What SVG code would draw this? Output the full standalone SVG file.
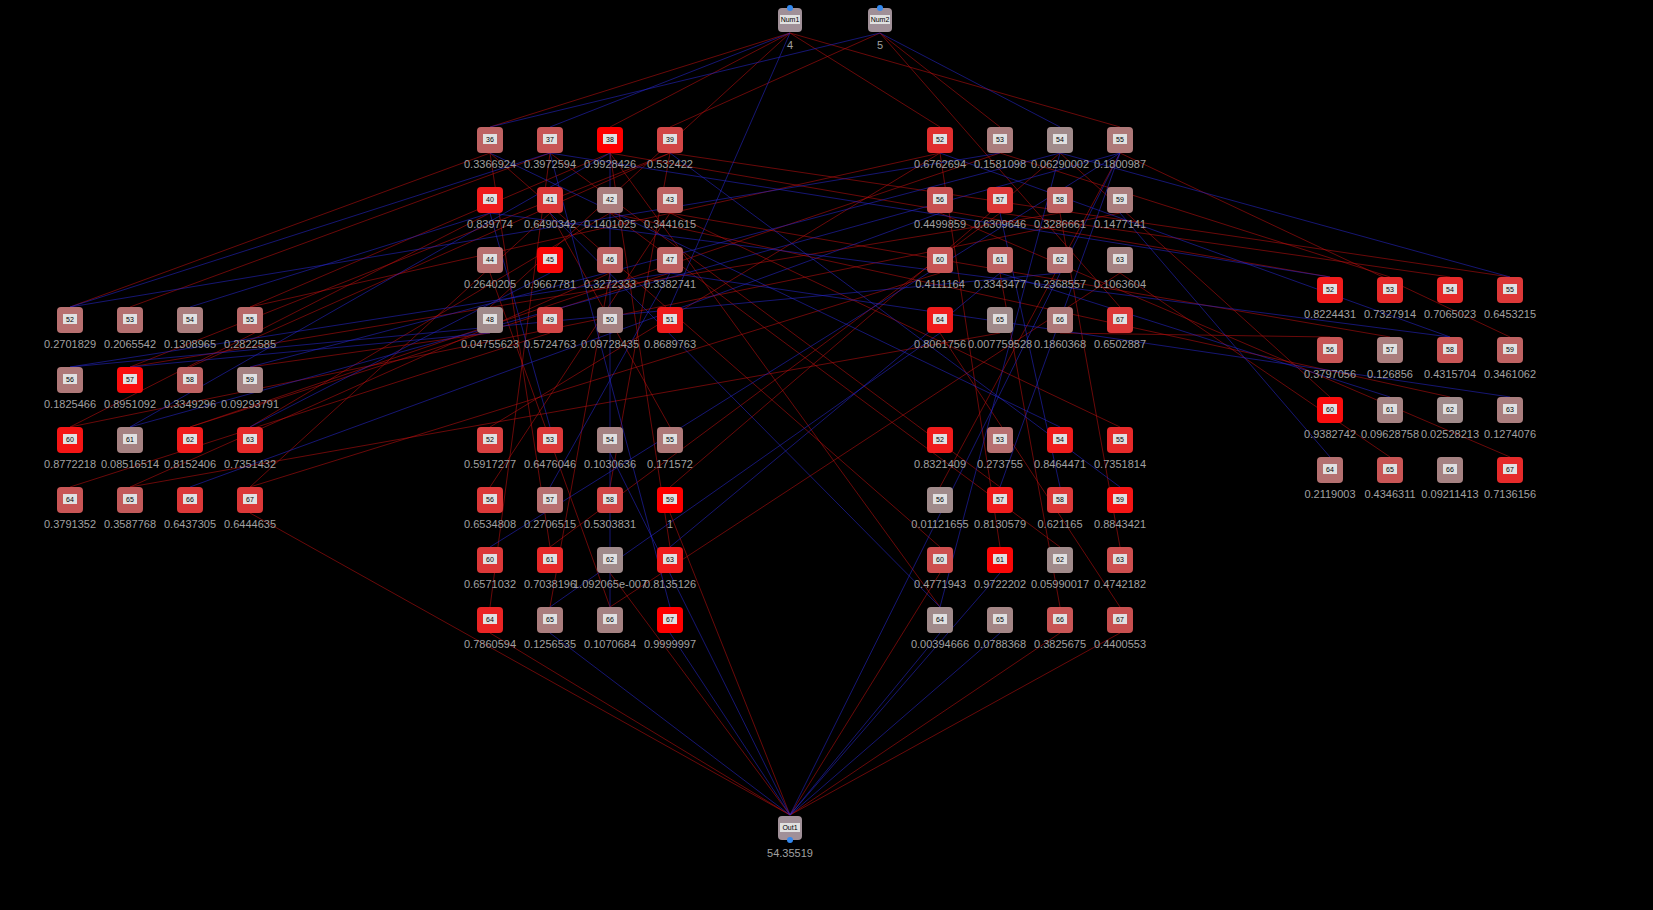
<svg xmlns="http://www.w3.org/2000/svg" width="1653" height="910" viewBox="0 0 1653 910">
<style>
.n{stroke:none;rx:4}
.t{fill:#e0e0e0}
.id{font:7px "Liberation Sans",sans-serif;fill:#000;text-anchor:middle}
.v{font:11px "Liberation Sans",sans-serif;fill:#a0a0a0;text-anchor:middle}
.r{stroke:#c01010;stroke-width:1;fill:none;opacity:.55}
.b{stroke:#2828d0;stroke-width:1;fill:none;opacity:.55}
.p{fill:#3388ee}
</style>
<rect width="1653" height="910" fill="#000"/>
<g id="connectors">
<path class="r" d="M790 33L490 127M790 33L610 127M790 33L940 127M790 33L1120 127M880 33L670 127M880 33L1000 127M880 33L1120 307M790 33L490 307M490 153L70 307M550 153L130 307M610 153L250 307M670 153L190 367M490 213L70 427M550 213L250 487M610 273L130 487M670 273L190 427M490 333L250 367M550 333L70 487M610 213L250 427M670 153L130 367M490 153L550 547M550 153L490 607M610 153L670 547M670 213L490 487M610 273L550 607M490 273L610 607M550 213L670 427M670 153L610 487M610 153L940 607M550 153L1000 487M670 213L1120 427M610 213L1060 547M490 153L940 547M610 153L1330 277M670 153L1510 277M670 213L1390 337M610 213L1450 397M940 153L250 307M1000 153L190 427M1060 213L130 367M1120 213L70 427M940 273L250 487M1000 333L130 487M940 153L490 427M1000 213L550 547M1060 153L670 487M1120 273L610 607M940 153L1000 547M1120 153L940 487M1060 213L1120 547M1000 273L1060 607M940 333L1120 607M1120 153L1510 337M1060 153L1330 397M1000 213L1450 277M940 213L1510 457M1120 273L1390 457M1060 333L1330 337M1000 153L1390 277M490 633L790 815M670 513L790 815M1120 633L790 815M940 573L790 815M1060 633L790 815M610 573L790 815M250 513L790 815"/>
<path class="b" d="M880 33L1060 127M790 33L550 127M880 33L490 127M790 33L670 307M550 153L70 307M490 213L190 307M610 153L130 427M670 273L70 367M550 273L250 427M490 333L130 367M490 213L550 427M610 153L610 607M670 273L550 487M550 153L670 607M670 153L1120 487M490 153L1060 427M550 213L940 607M550 153L1330 277M490 213L1450 337M670 273L1510 397M1000 153L70 307M1060 153L250 367M940 213L190 487M1120 153L130 427M1060 273L70 367M1120 153L490 547M1000 273L670 547M940 333L550 607M1120 153L1000 487M1060 153L940 607M1000 213L1060 487M1060 153L1510 277M1120 213L1330 457M940 153L1450 337M1000 273L1390 397M550 633L790 815M1000 573L790 815M940 633L790 815M610 453L790 815M1120 153L790 815M670 633L790 815M1000 633L790 815"/>
</g>
<defs>
<g id="box"><rect class="t" x="-7" y="-6" width="14" height="10"/></g>
</defs>
<g id="Num1" transform="translate(790,20)"><rect class="n" x="-12" y="-12" width="24" height="24" fill="#a09098"/><circle class="p" cx="0" cy="-12" r="3"/><rect class="t" x="-10" y="-5" width="20" height="9"/><text class="id" y="2">Num1</text><text class="v" y="29">4</text></g>
<g id="Num2" transform="translate(880,20)"><rect class="n" x="-12" y="-12" width="24" height="24" fill="#a09098"/><circle class="p" cx="0" cy="-12" r="3"/><rect class="t" x="-10" y="-5" width="20" height="9"/><text class="id" y="2">Num2</text><text class="v" y="29">5</text></g>
<g id="Out1" transform="translate(790,828)"><rect class="n" x="-12" y="-12" width="24" height="24" fill="#a09098"/><circle class="p" cx="0" cy="12" r="3"/><rect class="t" x="-10" y="-5" width="20" height="9"/><text class="id" y="2">Out1</text><text class="v" y="29">54.35519</text></g>

<g id="A36" transform="translate(490,140)"><rect class="n" x="-13" y="-13" width="26" height="26" fill="#be6262"/><use href="#box"/><text class="id" y="2">36</text><text class="v" y="28">0.3366924</text></g>
<g id="A37" transform="translate(550,140)"><rect class="n" x="-13" y="-13" width="26" height="26" fill="#c85555"/><use href="#box"/><text class="id" y="2">37</text><text class="v" y="28">0.3972594</text></g>
<g id="A38" transform="translate(610,140)"><rect class="n" x="-13" y="-13" width="26" height="26" fill="#ff0000"/><use href="#box"/><text class="id" y="2">38</text><text class="v" y="28">0.9928426</text></g>
<g id="A39" transform="translate(670,140)"><rect class="n" x="-13" y="-13" width="26" height="26" fill="#d24646"/><use href="#box"/><text class="id" y="2">39</text><text class="v" y="28">0.532422</text></g>
<g id="A40" transform="translate(490,200)"><rect class="n" x="-13" y="-13" width="26" height="26" fill="#f01c1c"/><use href="#box"/><text class="id" y="2">40</text><text class="v" y="28">0.839774</text></g>
<g id="A41" transform="translate(550,200)"><rect class="n" x="-13" y="-13" width="26" height="26" fill="#dc3838"/><use href="#box"/><text class="id" y="2">41</text><text class="v" y="28">0.6490342</text></g>
<g id="A42" transform="translate(610,200)"><rect class="n" x="-13" y="-13" width="26" height="26" fill="#aa7d7d"/><use href="#box"/><text class="id" y="2">42</text><text class="v" y="28">0.1401025</text></g>
<g id="A43" transform="translate(670,200)"><rect class="n" x="-13" y="-13" width="26" height="26" fill="#be6262"/><use href="#box"/><text class="id" y="2">43</text><text class="v" y="28">0.3441615</text></g>
<g id="A44" transform="translate(490,260)"><rect class="n" x="-13" y="-13" width="26" height="26" fill="#b87070"/><use href="#box"/><text class="id" y="2">44</text><text class="v" y="28">0.2640205</text></g>
<g id="A45" transform="translate(550,260)"><rect class="n" x="-13" y="-13" width="26" height="26" fill="#fa0808"/><use href="#box"/><text class="id" y="2">45</text><text class="v" y="28">0.9667781</text></g>
<g id="A46" transform="translate(610,260)"><rect class="n" x="-13" y="-13" width="26" height="26" fill="#be6262"/><use href="#box"/><text class="id" y="2">46</text><text class="v" y="28">0.3272333</text></g>
<g id="A47" transform="translate(670,260)"><rect class="n" x="-13" y="-13" width="26" height="26" fill="#be6262"/><use href="#box"/><text class="id" y="2">47</text><text class="v" y="28">0.3382741</text></g>
<g id="A48" transform="translate(490,320)"><rect class="n" x="-13" y="-13" width="26" height="26" fill="#a08a8a"/><use href="#box"/><text class="id" y="2">48</text><text class="v" y="28">0.04755623</text></g>
<g id="A49" transform="translate(550,320)"><rect class="n" x="-13" y="-13" width="26" height="26" fill="#d24646"/><use href="#box"/><text class="id" y="2">49</text><text class="v" y="28">0.5724763</text></g>
<g id="A50" transform="translate(610,320)"><rect class="n" x="-13" y="-13" width="26" height="26" fill="#a58282"/><use href="#box"/><text class="id" y="2">50</text><text class="v" y="28">0.09728435</text></g>
<g id="A51" transform="translate(670,320)"><rect class="n" x="-13" y="-13" width="26" height="26" fill="#f01c1c"/><use href="#box"/><text class="id" y="2">51</text><text class="v" y="28">0.8689763</text></g>

<g id="B52" transform="translate(940,140)"><rect class="n" x="-13" y="-13" width="26" height="26" fill="#e02e2e"/><use href="#box"/><text class="id" y="2">52</text><text class="v" y="28">0.6762694</text></g>
<g id="B53" transform="translate(1000,140)"><rect class="n" x="-13" y="-13" width="26" height="26" fill="#aa7d7d"/><use href="#box"/><text class="id" y="2">53</text><text class="v" y="28">0.1581098</text></g>
<g id="B54" transform="translate(1060,140)"><rect class="n" x="-13" y="-13" width="26" height="26" fill="#a08a8a"/><use href="#box"/><text class="id" y="2">54</text><text class="v" y="28">0.06290002</text></g>
<g id="B55" transform="translate(1120,140)"><rect class="n" x="-13" y="-13" width="26" height="26" fill="#ae7878"/><use href="#box"/><text class="id" y="2">55</text><text class="v" y="28">0.1800987</text></g>
<g id="B56" transform="translate(940,200)"><rect class="n" x="-13" y="-13" width="26" height="26" fill="#c85050"/><use href="#box"/><text class="id" y="2">56</text><text class="v" y="28">0.4499859</text></g>
<g id="B57" transform="translate(1000,200)"><rect class="n" x="-13" y="-13" width="26" height="26" fill="#dc3838"/><use href="#box"/><text class="id" y="2">57</text><text class="v" y="28">0.6309646</text></g>
<g id="B58" transform="translate(1060,200)"><rect class="n" x="-13" y="-13" width="26" height="26" fill="#be6262"/><use href="#box"/><text class="id" y="2">58</text><text class="v" y="28">0.3286661</text></g>
<g id="B59" transform="translate(1120,200)"><rect class="n" x="-13" y="-13" width="26" height="26" fill="#aa7d7d"/><use href="#box"/><text class="id" y="2">59</text><text class="v" y="28">0.1477141</text></g>
<g id="B60" transform="translate(940,260)"><rect class="n" x="-13" y="-13" width="26" height="26" fill="#c85555"/><use href="#box"/><text class="id" y="2">60</text><text class="v" y="28">0.4111164</text></g>
<g id="B61" transform="translate(1000,260)"><rect class="n" x="-13" y="-13" width="26" height="26" fill="#be6262"/><use href="#box"/><text class="id" y="2">61</text><text class="v" y="28">0.3343477</text></g>
<g id="B62" transform="translate(1060,260)"><rect class="n" x="-13" y="-13" width="26" height="26" fill="#b47070"/><use href="#box"/><text class="id" y="2">62</text><text class="v" y="28">0.2368557</text></g>
<g id="B63" transform="translate(1120,260)"><rect class="n" x="-13" y="-13" width="26" height="26" fill="#a58282"/><use href="#box"/><text class="id" y="2">63</text><text class="v" y="28">0.1063604</text></g>
<g id="B64" transform="translate(940,320)"><rect class="n" x="-13" y="-13" width="26" height="26" fill="#f01c1c"/><use href="#box"/><text class="id" y="2">64</text><text class="v" y="28">0.8061756</text></g>
<g id="B65" transform="translate(1000,320)"><rect class="n" x="-13" y="-13" width="26" height="26" fill="#a08a8a"/><use href="#box"/><text class="id" y="2">65</text><text class="v" y="28">0.007759528</text></g>
<g id="B66" transform="translate(1060,320)"><rect class="n" x="-13" y="-13" width="26" height="26" fill="#ae7878"/><use href="#box"/><text class="id" y="2">66</text><text class="v" y="28">0.1860368</text></g>
<g id="B67" transform="translate(1120,320)"><rect class="n" x="-13" y="-13" width="26" height="26" fill="#dc3838"/><use href="#box"/><text class="id" y="2">67</text><text class="v" y="28">0.6502887</text></g>

<g id="C52" transform="translate(70,320)"><rect class="n" x="-13" y="-13" width="26" height="26" fill="#b87070"/><use href="#box"/><text class="id" y="2">52</text><text class="v" y="28">0.2701829</text></g>
<g id="C53" transform="translate(130,320)"><rect class="n" x="-13" y="-13" width="26" height="26" fill="#b47070"/><use href="#box"/><text class="id" y="2">53</text><text class="v" y="28">0.2065542</text></g>
<g id="C54" transform="translate(190,320)"><rect class="n" x="-13" y="-13" width="26" height="26" fill="#aa7d7d"/><use href="#box"/><text class="id" y="2">54</text><text class="v" y="28">0.1308965</text></g>
<g id="C55" transform="translate(250,320)"><rect class="n" x="-13" y="-13" width="26" height="26" fill="#b86868"/><use href="#box"/><text class="id" y="2">55</text><text class="v" y="28">0.2822585</text></g>
<g id="C56" transform="translate(70,380)"><rect class="n" x="-13" y="-13" width="26" height="26" fill="#ae7878"/><use href="#box"/><text class="id" y="2">56</text><text class="v" y="28">0.1825466</text></g>
<g id="C57" transform="translate(130,380)"><rect class="n" x="-13" y="-13" width="26" height="26" fill="#fa0e0e"/><use href="#box"/><text class="id" y="2">57</text><text class="v" y="28">0.8951092</text></g>
<g id="C58" transform="translate(190,380)"><rect class="n" x="-13" y="-13" width="26" height="26" fill="#be6262"/><use href="#box"/><text class="id" y="2">58</text><text class="v" y="28">0.3349296</text></g>
<g id="C59" transform="translate(250,380)"><rect class="n" x="-13" y="-13" width="26" height="26" fill="#a58282"/><use href="#box"/><text class="id" y="2">59</text><text class="v" y="28">0.09293791</text></g>
<g id="C60" transform="translate(70,440)"><rect class="n" x="-13" y="-13" width="26" height="26" fill="#f51515"/><use href="#box"/><text class="id" y="2">60</text><text class="v" y="28">0.8772218</text></g>
<g id="C61" transform="translate(130,440)"><rect class="n" x="-13" y="-13" width="26" height="26" fill="#a58282"/><use href="#box"/><text class="id" y="2">61</text><text class="v" y="28">0.08516514</text></g>
<g id="C62" transform="translate(190,440)"><rect class="n" x="-13" y="-13" width="26" height="26" fill="#f01c1c"/><use href="#box"/><text class="id" y="2">62</text><text class="v" y="28">0.8152406</text></g>
<g id="C63" transform="translate(250,440)"><rect class="n" x="-13" y="-13" width="26" height="26" fill="#e62a2a"/><use href="#box"/><text class="id" y="2">63</text><text class="v" y="28">0.7351432</text></g>
<g id="C64" transform="translate(70,500)"><rect class="n" x="-13" y="-13" width="26" height="26" fill="#c85555"/><use href="#box"/><text class="id" y="2">64</text><text class="v" y="28">0.3791352</text></g>
<g id="C65" transform="translate(130,500)"><rect class="n" x="-13" y="-13" width="26" height="26" fill="#c25a5a"/><use href="#box"/><text class="id" y="2">65</text><text class="v" y="28">0.3587768</text></g>
<g id="C66" transform="translate(190,500)"><rect class="n" x="-13" y="-13" width="26" height="26" fill="#dc3838"/><use href="#box"/><text class="id" y="2">66</text><text class="v" y="28">0.6437305</text></g>
<g id="C67" transform="translate(250,500)"><rect class="n" x="-13" y="-13" width="26" height="26" fill="#dc3838"/><use href="#box"/><text class="id" y="2">67</text><text class="v" y="28">0.6444635</text></g>

<g id="D52" transform="translate(490,440)"><rect class="n" x="-13" y="-13" width="26" height="26" fill="#d84040"/><use href="#box"/><text class="id" y="2">52</text><text class="v" y="28">0.5917277</text></g>
<g id="D53" transform="translate(550,440)"><rect class="n" x="-13" y="-13" width="26" height="26" fill="#dc3838"/><use href="#box"/><text class="id" y="2">53</text><text class="v" y="28">0.6476046</text></g>
<g id="D54" transform="translate(610,440)"><rect class="n" x="-13" y="-13" width="26" height="26" fill="#a58282"/><use href="#box"/><text class="id" y="2">54</text><text class="v" y="28">0.1030636</text></g>
<g id="D55" transform="translate(670,440)"><rect class="n" x="-13" y="-13" width="26" height="26" fill="#ae7878"/><use href="#box"/><text class="id" y="2">55</text><text class="v" y="28">0.171572</text></g>
<g id="D56" transform="translate(490,500)"><rect class="n" x="-13" y="-13" width="26" height="26" fill="#dc3838"/><use href="#box"/><text class="id" y="2">56</text><text class="v" y="28">0.6534808</text></g>
<g id="D57" transform="translate(550,500)"><rect class="n" x="-13" y="-13" width="26" height="26" fill="#b87070"/><use href="#box"/><text class="id" y="2">57</text><text class="v" y="28">0.2706515</text></g>
<g id="D58" transform="translate(610,500)"><rect class="n" x="-13" y="-13" width="26" height="26" fill="#d24646"/><use href="#box"/><text class="id" y="2">58</text><text class="v" y="28">0.5303831</text></g>
<g id="D59" transform="translate(670,500)"><rect class="n" x="-13" y="-13" width="26" height="26" fill="#ff0000"/><use href="#box"/><text class="id" y="2">59</text><text class="v" y="28">1</text></g>
<g id="D60" transform="translate(490,560)"><rect class="n" x="-13" y="-13" width="26" height="26" fill="#dc3838"/><use href="#box"/><text class="id" y="2">60</text><text class="v" y="28">0.6571032</text></g>
<g id="D61" transform="translate(550,560)"><rect class="n" x="-13" y="-13" width="26" height="26" fill="#e62a2a"/><use href="#box"/><text class="id" y="2">61</text><text class="v" y="28">0.7038196</text></g>
<g id="D62" transform="translate(610,560)"><rect class="n" x="-13" y="-13" width="26" height="26" fill="#a08a8a"/><use href="#box"/><text class="id" y="2">62</text><text class="v" y="28">1.092065e-007</text></g>
<g id="D63" transform="translate(670,560)"><rect class="n" x="-13" y="-13" width="26" height="26" fill="#f01c1c"/><use href="#box"/><text class="id" y="2">63</text><text class="v" y="28">0.8135126</text></g>
<g id="D64" transform="translate(490,620)"><rect class="n" x="-13" y="-13" width="26" height="26" fill="#eb2424"/><use href="#box"/><text class="id" y="2">64</text><text class="v" y="28">0.7860594</text></g>
<g id="D65" transform="translate(550,620)"><rect class="n" x="-13" y="-13" width="26" height="26" fill="#aa7d7d"/><use href="#box"/><text class="id" y="2">65</text><text class="v" y="28">0.1256535</text></g>
<g id="D66" transform="translate(610,620)"><rect class="n" x="-13" y="-13" width="26" height="26" fill="#a58282"/><use href="#box"/><text class="id" y="2">66</text><text class="v" y="28">0.1070684</text></g>
<g id="D67" transform="translate(670,620)"><rect class="n" x="-13" y="-13" width="26" height="26" fill="#ff0000"/><use href="#box"/><text class="id" y="2">67</text><text class="v" y="28">0.9999997</text></g>

<g id="E52" transform="translate(940,440)"><rect class="n" x="-13" y="-13" width="26" height="26" fill="#f01c1c"/><use href="#box"/><text class="id" y="2">52</text><text class="v" y="28">0.8321409</text></g>
<g id="E53" transform="translate(1000,440)"><rect class="n" x="-13" y="-13" width="26" height="26" fill="#b87070"/><use href="#box"/><text class="id" y="2">53</text><text class="v" y="28">0.273755</text></g>
<g id="E54" transform="translate(1060,440)"><rect class="n" x="-13" y="-13" width="26" height="26" fill="#f01c1c"/><use href="#box"/><text class="id" y="2">54</text><text class="v" y="28">0.8464471</text></g>
<g id="E55" transform="translate(1120,440)"><rect class="n" x="-13" y="-13" width="26" height="26" fill="#e62a2a"/><use href="#box"/><text class="id" y="2">55</text><text class="v" y="28">0.7351814</text></g>
<g id="E56" transform="translate(940,500)"><rect class="n" x="-13" y="-13" width="26" height="26" fill="#a08a8a"/><use href="#box"/><text class="id" y="2">56</text><text class="v" y="28">0.01121655</text></g>
<g id="E57" transform="translate(1000,500)"><rect class="n" x="-13" y="-13" width="26" height="26" fill="#f01c1c"/><use href="#box"/><text class="id" y="2">57</text><text class="v" y="28">0.8130579</text></g>
<g id="E58" transform="translate(1060,500)"><rect class="n" x="-13" y="-13" width="26" height="26" fill="#dc3838"/><use href="#box"/><text class="id" y="2">58</text><text class="v" y="28">0.621165</text></g>
<g id="E59" transform="translate(1120,500)"><rect class="n" x="-13" y="-13" width="26" height="26" fill="#f51515"/><use href="#box"/><text class="id" y="2">59</text><text class="v" y="28">0.8843421</text></g>
<g id="E60" transform="translate(940,560)"><rect class="n" x="-13" y="-13" width="26" height="26" fill="#cd4f4f"/><use href="#box"/><text class="id" y="2">60</text><text class="v" y="28">0.4771943</text></g>
<g id="E61" transform="translate(1000,560)"><rect class="n" x="-13" y="-13" width="26" height="26" fill="#fa0808"/><use href="#box"/><text class="id" y="2">61</text><text class="v" y="28">0.9722202</text></g>
<g id="E62" transform="translate(1060,560)"><rect class="n" x="-13" y="-13" width="26" height="26" fill="#a08a8a"/><use href="#box"/><text class="id" y="2">62</text><text class="v" y="28">0.05990017</text></g>
<g id="E63" transform="translate(1120,560)"><rect class="n" x="-13" y="-13" width="26" height="26" fill="#cd4f4f"/><use href="#box"/><text class="id" y="2">63</text><text class="v" y="28">0.4742182</text></g>
<g id="E64" transform="translate(940,620)"><rect class="n" x="-13" y="-13" width="26" height="26" fill="#a08a8a"/><use href="#box"/><text class="id" y="2">64</text><text class="v" y="28">0.00394666</text></g>
<g id="E65" transform="translate(1000,620)"><rect class="n" x="-13" y="-13" width="26" height="26" fill="#a38585"/><use href="#box"/><text class="id" y="2">65</text><text class="v" y="28">0.0788368</text></g>
<g id="E66" transform="translate(1060,620)"><rect class="n" x="-13" y="-13" width="26" height="26" fill="#c85555"/><use href="#box"/><text class="id" y="2">66</text><text class="v" y="28">0.3825675</text></g>
<g id="E67" transform="translate(1120,620)"><rect class="n" x="-13" y="-13" width="26" height="26" fill="#c85050"/><use href="#box"/><text class="id" y="2">67</text><text class="v" y="28">0.4400553</text></g>

<g id="F52" transform="translate(1330,290)"><rect class="n" x="-13" y="-13" width="26" height="26" fill="#f01c1c"/><use href="#box"/><text class="id" y="2">52</text><text class="v" y="28">0.8224431</text></g>
<g id="F53" transform="translate(1390,290)"><rect class="n" x="-13" y="-13" width="26" height="26" fill="#e62a2a"/><use href="#box"/><text class="id" y="2">53</text><text class="v" y="28">0.7327914</text></g>
<g id="F54" transform="translate(1450,290)"><rect class="n" x="-13" y="-13" width="26" height="26" fill="#e62a2a"/><use href="#box"/><text class="id" y="2">54</text><text class="v" y="28">0.7065023</text></g>
<g id="F55" transform="translate(1510,290)"><rect class="n" x="-13" y="-13" width="26" height="26" fill="#dc3838"/><use href="#box"/><text class="id" y="2">55</text><text class="v" y="28">0.6453215</text></g>
<g id="F56" transform="translate(1330,350)"><rect class="n" x="-13" y="-13" width="26" height="26" fill="#c85555"/><use href="#box"/><text class="id" y="2">56</text><text class="v" y="28">0.3797056</text></g>
<g id="F57" transform="translate(1390,350)"><rect class="n" x="-13" y="-13" width="26" height="26" fill="#aa7d7d"/><use href="#box"/><text class="id" y="2">57</text><text class="v" y="28">0.126856</text></g>
<g id="F58" transform="translate(1450,350)"><rect class="n" x="-13" y="-13" width="26" height="26" fill="#c85555"/><use href="#box"/><text class="id" y="2">58</text><text class="v" y="28">0.4315704</text></g>
<g id="F59" transform="translate(1510,350)"><rect class="n" x="-13" y="-13" width="26" height="26" fill="#be6262"/><use href="#box"/><text class="id" y="2">59</text><text class="v" y="28">0.3461062</text></g>
<g id="F60" transform="translate(1330,410)"><rect class="n" x="-13" y="-13" width="26" height="26" fill="#fa0e0e"/><use href="#box"/><text class="id" y="2">60</text><text class="v" y="28">0.9382742</text></g>
<g id="F61" transform="translate(1390,410)"><rect class="n" x="-13" y="-13" width="26" height="26" fill="#a58282"/><use href="#box"/><text class="id" y="2">61</text><text class="v" y="28">0.09628758</text></g>
<g id="F62" transform="translate(1450,410)"><rect class="n" x="-13" y="-13" width="26" height="26" fill="#a08a8a"/><use href="#box"/><text class="id" y="2">62</text><text class="v" y="28">0.02528213</text></g>
<g id="F63" transform="translate(1510,410)"><rect class="n" x="-13" y="-13" width="26" height="26" fill="#aa7d7d"/><use href="#box"/><text class="id" y="2">63</text><text class="v" y="28">0.1274076</text></g>
<g id="F64" transform="translate(1330,470)"><rect class="n" x="-13" y="-13" width="26" height="26" fill="#b47070"/><use href="#box"/><text class="id" y="2">64</text><text class="v" y="28">0.2119003</text></g>
<g id="F65" transform="translate(1390,470)"><rect class="n" x="-13" y="-13" width="26" height="26" fill="#c85555"/><use href="#box"/><text class="id" y="2">65</text><text class="v" y="28">0.4346311</text></g>
<g id="F66" transform="translate(1450,470)"><rect class="n" x="-13" y="-13" width="26" height="26" fill="#a58282"/><use href="#box"/><text class="id" y="2">66</text><text class="v" y="28">0.09211413</text></g>
<g id="F67" transform="translate(1510,470)"><rect class="n" x="-13" y="-13" width="26" height="26" fill="#e62a2a"/><use href="#box"/><text class="id" y="2">67</text><text class="v" y="28">0.7136156</text></g>
</svg>
